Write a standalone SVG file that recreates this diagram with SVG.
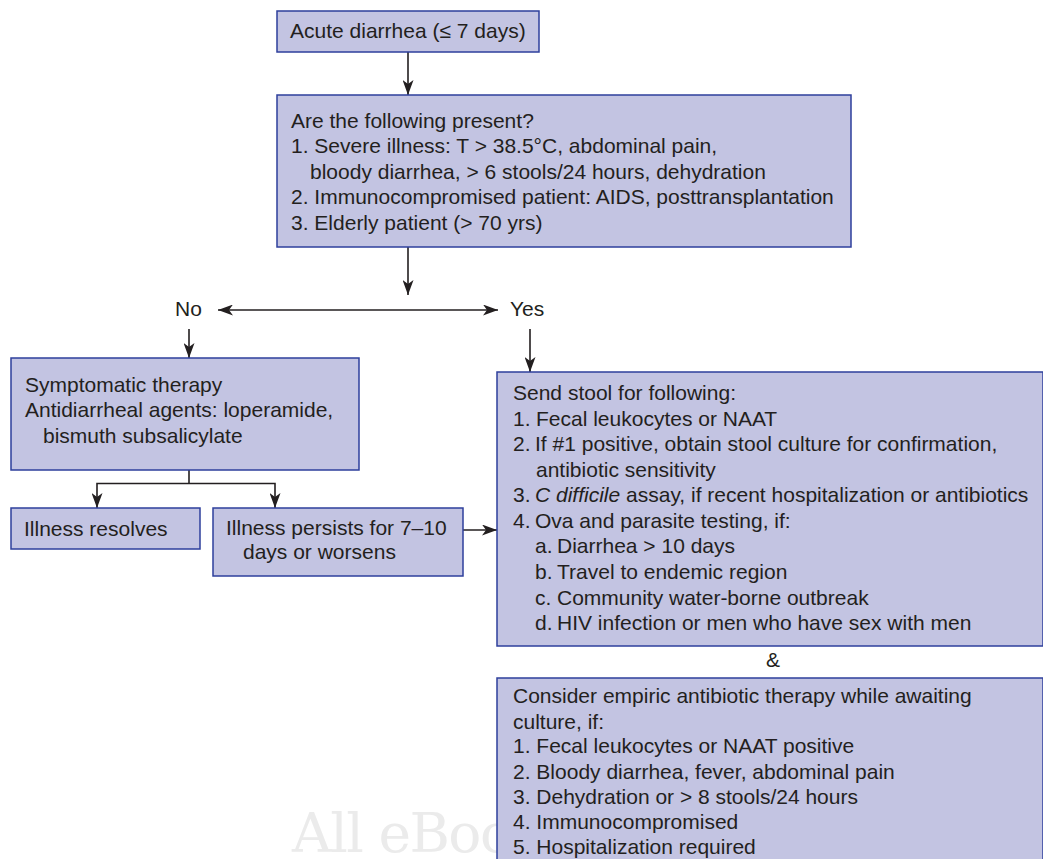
<svg xmlns="http://www.w3.org/2000/svg" width="1043" height="859" viewBox="0 0 1043 859">
<style>
  .box { fill: #c3c4e2; stroke: #2e3f9c; stroke-width: 1.5; }
  .t { font-family: "Liberation Sans", Arial, Helvetica, sans-serif; font-size: 21px; fill: #231f20; }
  .c { fill: none; stroke: #231f20; stroke-width: 1.6; }
  .wm { font-family: "DejaVu Serif", "Liberation Serif", serif; font-size: 55px; fill: #ebebeb; letter-spacing: -1.5px; }
</style>
<defs>
  <marker id="ah" viewBox="0 0 15 11" refX="15" refY="5.5" markerWidth="15" markerHeight="11" markerUnits="userSpaceOnUse" orient="auto-start-reverse">
    <path d="M0,0 L15,5.5 L0,11 L4,5.5 Z" fill="#231f20"/>
  </marker>
</defs>

<text class="wm" x="292" y="852">All eBoo</text>

<g id="connectors">
  <line class="c" x1="408" y1="52" x2="408" y2="95" marker-end="url(#ah)"/>
  <line class="c" x1="408" y1="247" x2="408" y2="295" marker-end="url(#ah)"/>
  <line class="c" x1="218" y1="310" x2="498" y2="310" marker-start="url(#ah)" marker-end="url(#ah)"/>
  <line class="c" x1="189" y1="329" x2="189" y2="358" marker-end="url(#ah)"/>
  <line class="c" x1="530" y1="329" x2="530" y2="372" marker-end="url(#ah)"/>
  <polyline class="c" points="189,470 189,483.5"/>
  <polyline class="c" points="97,508 97,483.5 275,483.5 275,508" marker-start="url(#ah)" marker-end="url(#ah)"/>
  <line class="c" x1="463" y1="530" x2="497" y2="530" marker-end="url(#ah)"/>
</g>

<g id="n-acute">
  <rect class="box" x="277" y="11" width="262" height="41"/>
  <text class="t" x="290" y="38">Acute diarrhea (≤ 7 days)</text>
</g>

<g id="n-question">
  <rect class="box" x="277" y="95" width="574" height="152"/>
  <text class="t" x="291" y="128">Are the following present?</text>
  <text class="t" x="291" y="153">1. Severe illness: T &gt; 38.5°C, abdominal pain,</text>
  <text class="t" x="310" y="179">bloody diarrhea, &gt; 6 stools/24 hours, dehydration</text>
  <text class="t" x="291" y="204">2. Immunocompromised patient: AIDS, posttransplantation</text>
  <text class="t" x="291" y="230">3. Elderly patient (&gt; 70 yrs)</text>
</g>

<g id="l-no"><text class="t" x="175" y="316">No</text></g>
<g id="l-yes"><text class="t" x="510" y="316">Yes</text></g>

<g id="n-symptomatic">
  <rect class="box" x="11" y="358" width="348" height="112"/>
  <text class="t" x="25" y="392">Symptomatic therapy</text>
  <text class="t" x="25" y="417">Antidiarrheal agents: loperamide,</text>
  <text class="t" x="43" y="443">bismuth subsalicylate</text>
</g>

<g id="n-resolves">
  <rect class="box" x="11" y="508" width="189" height="41"/>
  <text class="t" x="24" y="536">Illness resolves</text>
</g>

<g id="n-persists">
  <rect class="box" x="213" y="508" width="250" height="68"/>
  <text class="t" x="226" y="535">Illness persists for 7–10</text>
  <text class="t" x="243" y="559">days or worsens</text>
</g>

<g id="n-stool">
  <rect class="box" x="497" y="372" width="546" height="274"/>
  <text class="t" x="513" y="400">Send stool for following:</text>
  <text class="t" x="513" y="426">1.<tspan x="536">Fecal leukocytes or NAAT</tspan></text>
  <text class="t" x="513" y="451">2.<tspan x="535">If #1 positive, obtain stool culture for confirmation,</tspan></text>
  <text class="t" x="536" y="477">antibiotic sensitivity</text>
  <text class="t" x="513" y="502">3.<tspan x="535" font-style="italic">C difficile</tspan> assay, if recent hospitalization or antibiotics</text>
  <text class="t" x="513" y="528">4.<tspan x="535">Ova and parasite testing, if:</tspan></text>
  <text class="t" x="535" y="553">a.<tspan x="557">Diarrhea &gt; 10 days</tspan></text>
  <text class="t" x="535" y="579">b.<tspan x="557">Travel to endemic region</tspan></text>
  <text class="t" x="535" y="605">c.<tspan x="557">Community water-borne outbreak</tspan></text>
  <text class="t" x="535" y="630">d.<tspan x="557">HIV infection or men who have sex with men</tspan></text>
</g>

<g id="l-and"><text class="t" x="773" y="667" text-anchor="middle">&amp;</text></g>

<g id="n-empiric">
  <rect class="box" x="497" y="678" width="546" height="190"/>
  <text class="t" x="513" y="703">Consider empiric antibiotic therapy while awaiting</text>
  <text class="t" x="513" y="729">culture, if:</text>
  <text class="t" x="513" y="753">1. Fecal leukocytes or NAAT positive</text>
  <text class="t" x="513" y="779">2. Bloody diarrhea, fever, abdominal pain</text>
  <text class="t" x="513" y="804">3. Dehydration or &gt; 8 stools/24 hours</text>
  <text class="t" x="513" y="829">4. Immunocompromised</text>
  <text class="t" x="513" y="854">5. Hospitalization required</text>
</g>
</svg>
